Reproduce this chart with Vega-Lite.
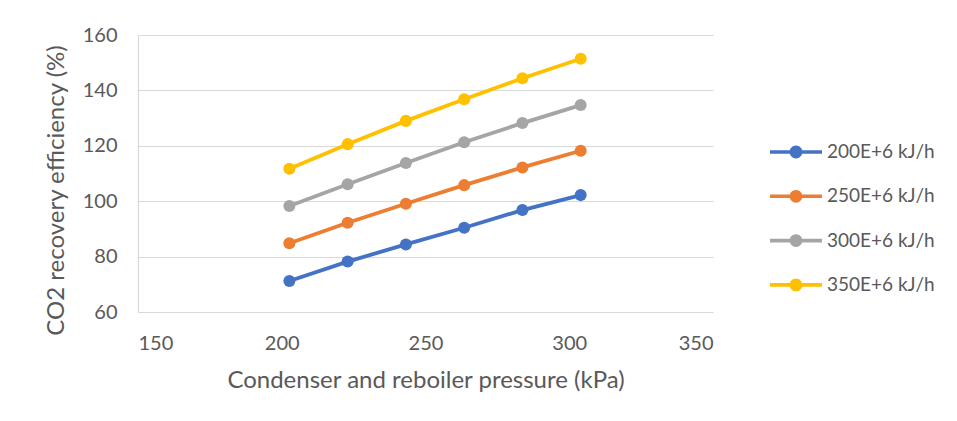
{
  "$schema": "https://vega.github.io/schema/vega-lite/v6.json",
  "width": 575,
  "height": 277,
  "autosize": {"type": "none"},
  "padding": {"left": 138, "top": 35, "right": 244, "bottom": 109},
  "background": "white",
  "config": {
    "font": "Lato",
    "view": {"stroke": null},
    "axis": {
      "labelColor": "#595959",
      "titleColor": "#595959",
      "labelFontSize": 20,
      "titleFontSize": 24,
      "titleFontWeight": "normal",
      "labelFont": "Lato",
      "titleFont": "Lato",
      "ticks": false,
      "domainColor": "#d9d9d9",
      "domainWidth": 1.2,
      "gridColor": "#d9d9d9",
      "gridWidth": 1.2
    }
  },
  "data": {
    "values": [
      {"p": 202.65, "eff": 71.2, "s": "200E+6 kJ/h"},
      {"p": 222.92, "eff": 78.2, "s": "200E+6 kJ/h"},
      {"p": 243.18, "eff": 84.4, "s": "200E+6 kJ/h"},
      {"p": 263.45, "eff": 90.4, "s": "200E+6 kJ/h"},
      {"p": 283.71, "eff": 96.8, "s": "200E+6 kJ/h"},
      {"p": 303.98, "eff": 102.2, "s": "200E+6 kJ/h"},
      {"p": 202.65, "eff": 84.8, "s": "250E+6 kJ/h"},
      {"p": 222.92, "eff": 92.2, "s": "250E+6 kJ/h"},
      {"p": 243.18, "eff": 99.1, "s": "250E+6 kJ/h"},
      {"p": 263.45, "eff": 105.8, "s": "250E+6 kJ/h"},
      {"p": 283.71, "eff": 112.2, "s": "250E+6 kJ/h"},
      {"p": 303.98, "eff": 118.2, "s": "250E+6 kJ/h"},
      {"p": 202.65, "eff": 98.3, "s": "300E+6 kJ/h"},
      {"p": 222.92, "eff": 106.1, "s": "300E+6 kJ/h"},
      {"p": 243.18, "eff": 113.8, "s": "300E+6 kJ/h"},
      {"p": 263.45, "eff": 121.3, "s": "300E+6 kJ/h"},
      {"p": 283.71, "eff": 128.2, "s": "300E+6 kJ/h"},
      {"p": 303.98, "eff": 134.7, "s": "300E+6 kJ/h"},
      {"p": 202.65, "eff": 111.7, "s": "350E+6 kJ/h"},
      {"p": 222.92, "eff": 120.6, "s": "350E+6 kJ/h"},
      {"p": 243.18, "eff": 129.0, "s": "350E+6 kJ/h"},
      {"p": 263.45, "eff": 136.8, "s": "350E+6 kJ/h"},
      {"p": 283.71, "eff": 144.4, "s": "350E+6 kJ/h"},
      {"p": 303.98, "eff": 151.4, "s": "350E+6 kJ/h"}
    ]
  },
  "encoding": {
    "x": {
      "field": "p",
      "type": "quantitative",
      "scale": {"domain": [150, 350], "nice": false, "zero": false},
      "axis": {"values": [150, 200, 250, 300, 350], "grid": false, "labelPadding": 21, "titlePadding": 15, "title": "Condenser and reboiler pressure (kPa)"}
    },
    "y": {
      "field": "eff",
      "type": "quantitative",
      "scale": {"domain": [60, 160], "nice": false, "zero": false},
      "axis": {"values": [60, 80, 100, 120, 140, 160], "labelPadding": 21, "titlePadding": 14, "titleY": 155, "title": "CO2 recovery efficiency (%)"}
    },
    "color": {
      "field": "s",
      "type": "nominal",
      "scale": {"domain": ["200E+6 kJ/h", "250E+6 kJ/h", "300E+6 kJ/h", "350E+6 kJ/h"], "range": ["#4472C4", "#ED7D31", "#A5A5A5", "#FFC000"]},
      "legend": {
        "title": null,
        "orient": "none",
        "legendX": 648,
        "legendY": 107,
        "padding": 0,
        "symbolType": "M-2.6,-0.18H2.6V0.18H-2.6Z M0.64,0A0.64,0.64 0 1,1 -0.64,0A0.64,0.64 0 1,1 0.64,0Z",
        "symbolSize": 400,
        "symbolOpacity": 1,
        "symbolStrokeWidth": 0,
        "labelOffset": 21,
        "rowPadding": 24.3,
        "labelFontSize": 19,
        "labelColor": "#595959",
        "labelFont": "Lato"
      }
    }
  },
  "layer": [
    {"mark": {"type": "line", "strokeWidth": 3.8}},
    {"mark": {"type": "point", "filled": true, "opacity": 1, "size": 145}}
  ]
}
